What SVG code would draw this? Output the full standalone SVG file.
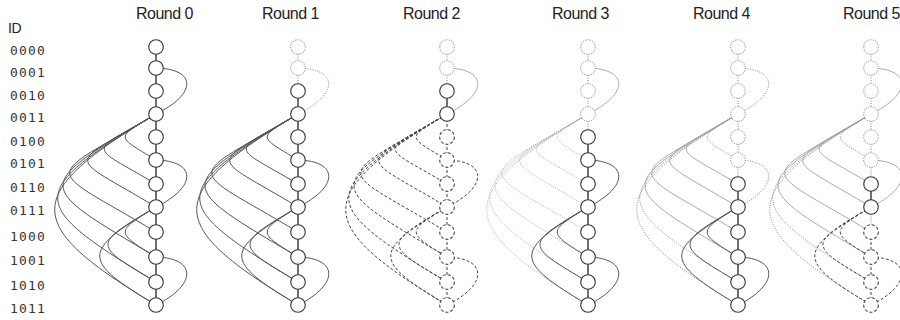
<svg xmlns="http://www.w3.org/2000/svg" xmlns:xlink="http://www.w3.org/1999/xlink" width="900" height="320" viewBox="0 0 900 320">
<style>
.title{font-family:"Liberation Sans",Arial,sans-serif;font-size:16px;letter-spacing:-0.5px;fill:#222}
.id{font-family:"DejaVu Sans Mono",monospace;font-size:13px;letter-spacing:1.2px;fill:#3a3530}
.hd{font-family:"Liberation Sans",Arial,sans-serif;font-size:14px;letter-spacing:-0.5px;fill:#222}
.c{fill:none;stroke:#555;stroke-width:1}
.v{stroke:#111;stroke-width:1.2}
.lt{stroke:#aaa}
.dot{stroke:#888;stroke-dasharray:1 1.4}
.ldot{stroke:#aaa;stroke-dasharray:1 1.4}
.dash{stroke:#444;stroke-dasharray:3 2}
circle{fill:#fff;stroke:#333;stroke-width:1.1}
circle.nd{stroke:#999;stroke-dasharray:1.2 1.2}
circle.nh{stroke:#444;stroke-dasharray:3 2}
</style>
<defs>
<path id="v0" d="M0 47V68"/><path id="v1" d="M0 68V91"/><path id="v2" d="M0 91V114"/><path id="v3" d="M0 114V137"/>
<path id="v4" d="M0 137V160"/><path id="v5" d="M0 160V184"/><path id="v6" d="M0 184V207"/><path id="v7" d="M0 207V232"/>
<path id="v8" d="M0 232V257"/><path id="v9" d="M0 257V282"/><path id="v10" d="M0 282V305"/>
<path id="r1" d="M0 68C41 69 41 94 0 114"/>
<path id="r2" d="M0 160C41 161 41 187 0 207"/>
<path id="r3" d="M0 257C41 258 41 285 0 305"/>
<path id="a5" d="M0 114C-41 139 -41 135 0 160"/>
<path id="a6" d="M0 114C-69 155 -69 143 0 184"/>
<path id="a7" d="M0 114C-91 169 -91 152 0 207"/>
<path id="a8" d="M0 114C-115 183 -115 163 0 232"/>
<path id="a9" d="M0 114C-124 188 -124 183 0 257"/>
<path id="a10" d="M0 114C-131 193 -131 203 0 282"/>
<path id="a11" d="M0 114C-135 195 -135 224 0 305"/>
<path id="b9" d="M0 207C-41 232 -41 232 0 257"/>
<path id="b10" d="M0 207C-64 245 -64 244 0 282"/>
<path id="b11" d="M0 207C-75 252 -75 260 0 305"/>
</defs>
<g id="labels">
<text class="hd" x="8" y="33">ID</text>
<text class="id" x="10" y="55">0000</text><text class="id" x="10" y="77">0001</text>
<text class="id" x="10" y="100">0010</text><text class="id" x="10" y="122">0011</text>
<text class="id" x="10" y="146">0100</text><text class="id" x="10" y="168">0101</text>
<text class="id" x="10" y="192">0110</text><text class="id" x="10" y="215">0111</text>
<text class="id" x="10" y="241">1000</text><text class="id" x="10" y="265">1001</text>
<text class="id" x="10" y="290">1010</text><text class="id" x="10" y="313">1011</text>
<text class="title" x="136" y="19">Round 0</text>
<text class="title" x="262" y="19">Round 1</text>
<text class="title" x="403" y="19">Round 2</text>
<text class="title" x="552" y="19">Round 3</text>
<text class="title" x="693" y="19">Round 4</text>
<text class="title" x="843" y="19">Round 5</text>
</g>
<g id="connectors">
<g id="conn-r0" transform="translate(156 0)">
<use href="#a5" class="c"/><use href="#a6" class="c"/><use href="#a7" class="c"/><use href="#a8" class="c"/><use href="#a9" class="c"/><use href="#a10" class="c"/><use href="#a11" class="c"/>
<use href="#b9" class="c"/><use href="#b10" class="c"/><use href="#b11" class="c"/>
<use href="#r1" class="c"/><use href="#r2" class="c"/><use href="#r3" class="c"/>
<use href="#v0" class="c v"/><use href="#v1" class="c v"/><use href="#v2" class="c v"/><use href="#v3" class="c v"/><use href="#v4" class="c v"/><use href="#v5" class="c v"/><use href="#v6" class="c v"/><use href="#v7" class="c v"/><use href="#v8" class="c v"/><use href="#v9" class="c v"/><use href="#v10" class="c v"/>
</g>
<g id="conn-r1" transform="translate(298 0)">
<use href="#a5" class="c"/><use href="#a6" class="c"/><use href="#a7" class="c"/><use href="#a8" class="c"/><use href="#a9" class="c"/><use href="#a10" class="c"/><use href="#a11" class="c"/>
<use href="#b9" class="c"/><use href="#b10" class="c"/><use href="#b11" class="c"/>
<use href="#r1" class="c dot"/><use href="#r2" class="c"/><use href="#r3" class="c"/>
<use href="#v0" class="c dot"/><use href="#v1" class="c dot"/><use href="#v2" class="c v"/><use href="#v3" class="c v"/><use href="#v4" class="c v"/><use href="#v5" class="c v"/><use href="#v6" class="c v"/><use href="#v7" class="c v"/><use href="#v8" class="c v"/><use href="#v9" class="c v"/><use href="#v10" class="c v"/>
</g>
<g id="conn-r2" transform="translate(447 0)">
<use href="#a5" class="c dash"/><use href="#a6" class="c dash"/><use href="#a7" class="c dash"/><use href="#a8" class="c dash"/><use href="#a9" class="c dash"/><use href="#a10" class="c dash"/><use href="#a11" class="c dash"/>
<use href="#b9" class="c dash"/><use href="#b10" class="c dash"/><use href="#b11" class="c dash"/>
<use href="#r1" class="c lt"/><use href="#r2" class="c dash"/><use href="#r3" class="c dash"/>
<use href="#v0" class="c dot"/><use href="#v1" class="c dot"/><use href="#v2" class="c v"/><use href="#v3" class="c dash"/><use href="#v4" class="c dash"/><use href="#v5" class="c dash"/><use href="#v6" class="c dash"/><use href="#v7" class="c dash"/><use href="#v8" class="c dash"/><use href="#v9" class="c dash"/><use href="#v10" class="c dash"/>
</g>
<g id="conn-r3" transform="translate(588 0)">
<use href="#a5" class="c ldot"/><use href="#a6" class="c ldot"/><use href="#a7" class="c ldot"/><use href="#a8" class="c ldot"/><use href="#a9" class="c ldot"/><use href="#a10" class="c ldot"/><use href="#a11" class="c ldot"/>
<use href="#b9" class="c"/><use href="#b10" class="c"/><use href="#b11" class="c"/>
<use href="#r1" class="c lt"/><use href="#r2" class="c"/><use href="#r3" class="c"/>
<use href="#v0" class="c dot"/><use href="#v1" class="c dot"/><use href="#v2" class="c dot"/><use href="#v3" class="c dot"/><use href="#v4" class="c v"/><use href="#v5" class="c v"/><use href="#v6" class="c v"/><use href="#v7" class="c v"/><use href="#v8" class="c v"/><use href="#v9" class="c v"/><use href="#v10" class="c v"/>
</g>
<g id="conn-r4" transform="translate(738 0)">
<use href="#a5" class="c dot"/><use href="#a6" class="c lt"/><use href="#a7" class="c lt"/><use href="#a8" class="c lt"/><use href="#a9" class="c lt"/><use href="#a10" class="c dot"/><use href="#a11" class="c dot"/>
<use href="#b9" class="c"/><use href="#b10" class="c"/><use href="#b11" class="c"/>
<use href="#r1" class="c dot"/><use href="#r2" class="c dot"/><use href="#r3" class="c"/>
<use href="#v0" class="c dot"/><use href="#v1" class="c dot"/><use href="#v2" class="c dot"/><use href="#v3" class="c dot"/><use href="#v4" class="c dot"/><use href="#v5" class="c dot"/><use href="#v6" class="c v"/><use href="#v7" class="c v"/><use href="#v8" class="c v"/><use href="#v9" class="c v"/><use href="#v10" class="c v"/>
</g>
<g id="conn-r5" transform="translate(871 0)">
<use href="#a5" class="c dot"/><use href="#a6" class="c lt"/><use href="#a7" class="c lt"/><use href="#a8" class="c lt"/><use href="#a9" class="c lt"/><use href="#a10" class="c dot"/><use href="#a11" class="c dot"/>
<use href="#b9" class="c dash"/><use href="#b10" class="c dash"/><use href="#b11" class="c dash"/>
<use href="#r1" class="c lt"/><use href="#r2" class="c lt"/><use href="#r3" class="c dash"/>
<use href="#v0" class="c dot"/><use href="#v1" class="c dot"/><use href="#v2" class="c dot"/><use href="#v3" class="c dot"/><use href="#v4" class="c dot"/><use href="#v5" class="c dot"/><use href="#v6" class="c v"/><use href="#v7" class="c dot"/><use href="#v8" class="c dash"/><use href="#v9" class="c dash"/><use href="#v10" class="c dash"/>
</g>
</g>
<g id="nodes">
<g id="r0-0000"><circle cx="156" cy="47" r="7.3"/></g><g id="r0-0001"><circle cx="156" cy="68" r="7.3"/></g><g id="r0-0010"><circle cx="156" cy="91" r="7.3"/></g><g id="r0-0011"><circle cx="156" cy="114" r="7.3"/></g><g id="r0-0100"><circle cx="156" cy="137" r="7.3"/></g><g id="r0-0101"><circle cx="156" cy="160" r="7.3"/></g><g id="r0-0110"><circle cx="156" cy="184" r="7.3"/></g><g id="r0-0111"><circle cx="156" cy="207" r="7.3"/></g><g id="r0-1000"><circle cx="156" cy="232" r="7.3"/></g><g id="r0-1001"><circle cx="156" cy="257" r="7.3"/></g><g id="r0-1010"><circle cx="156" cy="282" r="7.3"/></g><g id="r0-1011"><circle cx="156" cy="305" r="7.3"/></g>
<g id="r1-0000"><circle class="nd" cx="298" cy="47" r="7.3"/></g><g id="r1-0001"><circle class="nd" cx="298" cy="68" r="7.3"/></g><g id="r1-0010"><circle cx="298" cy="91" r="7.3"/></g><g id="r1-0011"><circle cx="298" cy="114" r="7.3"/></g><g id="r1-0100"><circle cx="298" cy="137" r="7.3"/></g><g id="r1-0101"><circle cx="298" cy="160" r="7.3"/></g><g id="r1-0110"><circle cx="298" cy="184" r="7.3"/></g><g id="r1-0111"><circle cx="298" cy="207" r="7.3"/></g><g id="r1-1000"><circle cx="298" cy="232" r="7.3"/></g><g id="r1-1001"><circle cx="298" cy="257" r="7.3"/></g><g id="r1-1010"><circle cx="298" cy="282" r="7.3"/></g><g id="r1-1011"><circle cx="298" cy="305" r="7.3"/></g>
<g id="r2-0000"><circle class="nd" cx="447" cy="47" r="7.3"/></g><g id="r2-0001"><circle class="nd" cx="447" cy="68" r="7.3"/></g><g id="r2-0010"><circle cx="447" cy="91" r="7.3"/></g><g id="r2-0011"><circle cx="447" cy="114" r="7.3"/></g><g id="r2-0100"><circle class="nh" cx="447" cy="137" r="7.3"/></g><g id="r2-0101"><circle class="nh" cx="447" cy="160" r="7.3"/></g><g id="r2-0110"><circle class="nh" cx="447" cy="184" r="7.3"/></g><g id="r2-0111"><circle class="nh" cx="447" cy="207" r="7.3"/></g><g id="r2-1000"><circle class="nh" cx="447" cy="232" r="7.3"/></g><g id="r2-1001"><circle class="nh" cx="447" cy="257" r="7.3"/></g><g id="r2-1010"><circle class="nh" cx="447" cy="282" r="7.3"/></g><g id="r2-1011"><circle class="nh" cx="447" cy="305" r="7.3"/></g>
<g id="r3-0000"><circle class="nd" cx="588" cy="47" r="7.3"/></g><g id="r3-0001"><circle class="nd" cx="588" cy="68" r="7.3"/></g><g id="r3-0010"><circle class="nd" cx="588" cy="91" r="7.3"/></g><g id="r3-0011"><circle class="nd" cx="588" cy="114" r="7.3"/></g><g id="r3-0100"><circle cx="588" cy="137" r="7.3"/></g><g id="r3-0101"><circle cx="588" cy="160" r="7.3"/></g><g id="r3-0110"><circle cx="588" cy="184" r="7.3"/></g><g id="r3-0111"><circle cx="588" cy="207" r="7.3"/></g><g id="r3-1000"><circle cx="588" cy="232" r="7.3"/></g><g id="r3-1001"><circle cx="588" cy="257" r="7.3"/></g><g id="r3-1010"><circle cx="588" cy="282" r="7.3"/></g><g id="r3-1011"><circle cx="588" cy="305" r="7.3"/></g>
<g id="r4-0000"><circle class="nd" cx="738" cy="47" r="7.3"/></g><g id="r4-0001"><circle class="nd" cx="738" cy="68" r="7.3"/></g><g id="r4-0010"><circle class="nd" cx="738" cy="91" r="7.3"/></g><g id="r4-0011"><circle class="nd" cx="738" cy="114" r="7.3"/></g><g id="r4-0100"><circle class="nd" cx="738" cy="137" r="7.3"/></g><g id="r4-0101"><circle class="nd" cx="738" cy="160" r="7.3"/></g><g id="r4-0110"><circle cx="738" cy="184" r="7.3"/></g><g id="r4-0111"><circle cx="738" cy="207" r="7.3"/></g><g id="r4-1000"><circle cx="738" cy="232" r="7.3"/></g><g id="r4-1001"><circle cx="738" cy="257" r="7.3"/></g><g id="r4-1010"><circle cx="738" cy="282" r="7.3"/></g><g id="r4-1011"><circle cx="738" cy="305" r="7.3"/></g>
<g id="r5-0000"><circle class="nd" cx="871" cy="47" r="7.3"/></g><g id="r5-0001"><circle class="nd" cx="871" cy="68" r="7.3"/></g><g id="r5-0010"><circle class="nd" cx="871" cy="91" r="7.3"/></g><g id="r5-0011"><circle class="nd" cx="871" cy="114" r="7.3"/></g><g id="r5-0100"><circle class="nd" cx="871" cy="137" r="7.3"/></g><g id="r5-0101"><circle class="nd" cx="871" cy="160" r="7.3"/></g><g id="r5-0110"><circle cx="871" cy="184" r="7.3"/></g><g id="r5-0111"><circle cx="871" cy="207" r="7.3"/></g><g id="r5-1000"><circle class="nh" cx="871" cy="232" r="7.3"/></g><g id="r5-1001"><circle class="nh" cx="871" cy="257" r="7.3"/></g><g id="r5-1010"><circle class="nh" cx="871" cy="282" r="7.3"/></g><g id="r5-1011"><circle class="nh" cx="871" cy="305" r="7.3"/></g>
</g>
</svg>
